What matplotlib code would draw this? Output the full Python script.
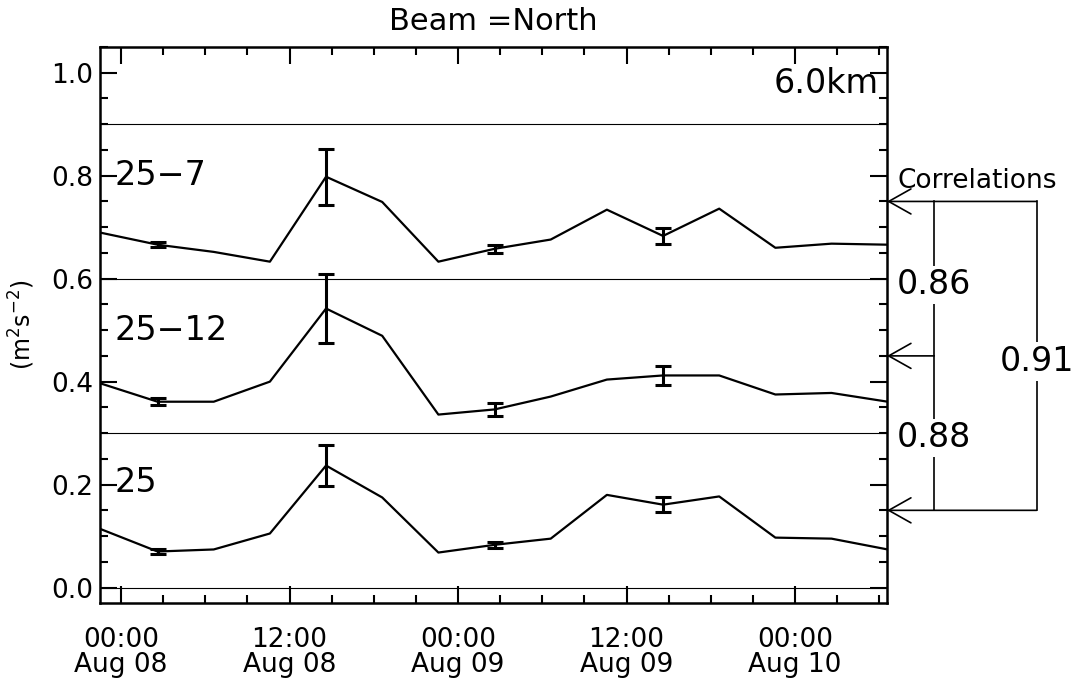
import matplotlib
matplotlib.use("Agg")
import matplotlib.pyplot as plt
import matplotlib.transforms as mtransforms
from matplotlib.ticker import MultipleLocator, FixedLocator

# hours since 00:00 Aug 08
hours = [-1.4, 2.6, 6.6, 10.6, 14.6, 18.6, 22.6, 26.6, 30.6, 34.6, 38.6, 42.6, 46.6, 50.6, 54.6]

# 25-7 series (offset by 0.6 in the plot scale)
s25_7 = [0.689, 0.666, 0.652, 0.633, 0.798, 0.749, 0.633, 0.658, 0.676, 0.734, 0.683, 0.736, 0.660, 0.668, 0.666]
# 25-12 series (offset by 0.3)
s25_12 = [0.396, 0.361, 0.361, 0.400, 0.542, 0.489, 0.336, 0.346, 0.371, 0.404, 0.412, 0.412, 0.375, 0.378, 0.361]
# 25 series
s25 = [0.113, 0.070, 0.074, 0.105, 0.237, 0.175, 0.068, 0.083, 0.095, 0.180, 0.161, 0.177, 0.097, 0.095, 0.074]

err_idx = [1, 4, 7, 10]
err_25_7 = [0.005, 0.054, 0.008, 0.015]
err_25_12 = [0.007, 0.067, 0.012, 0.018]
err_25 = [0.004, 0.040, 0.006, 0.015]

series = [("25\u22127", s25_7, err_25_7, 0.80),
          ("25\u221212", s25_12, err_25_12, 0.50),
          ("25", s25, err_25, 0.204)]

xtick_pos = [0, 12, 24, 36, 48]
xtick_labels = ["00:00\nAug 08", "12:00\nAug 08", "00:00\nAug 09", "12:00\nAug 09", "00:00\nAug 10"]

sep_lines = [0.9, 0.6, 0.3, 0.0]

# correlations: arrow levels and values
corr_levels = [0.75, 0.45, 0.15]
corr_labels = ["0.86", "0.88", "0.91"]

plt.rcParams['font.family'] = ['DejaVu Sans']

f = plt.figure(figsize=(10.88, 6.84), dpi=100)
ax = f.add_axes([100/1088, 81/684, 787/1088, 556/684])

#Data
for name, vals, errs, ylab in series:
    ax.plot(hours, vals, '-', color='black', lw=1.6)
    ax.errorbar([hours[i] for i in err_idx], [vals[i] for i in err_idx], yerr=errs,
                fmt='none', ecolor='black', elinewidth=2.2, capsize=6, capthick=2.2)
    ax.text(-0.45, ylab, name, fontsize=24, ha='left', va='center')

#separator lines
for v in sep_lines:
    ax.axhline(v, color='black', lw=0.8)

#Axis limits
ax.set_xlim(-1.5, 54.55)
ax.set_ylim(-0.03, 1.05)

#ticks
ax.set_yticks([0.0, 0.2, 0.4, 0.6, 0.8, 1.0])
ax.set_yticklabels(["0.0", "0.2", "0.4", "0.6", "0.8", "1.0"])
ax.yaxis.set_minor_locator(MultipleLocator(0.05))
ax.xaxis.set_major_locator(FixedLocator(xtick_pos))
ax.set_xticklabels(xtick_labels)
ax.xaxis.set_minor_locator(MultipleLocator(3))
ax.tick_params(which='both', direction='in', top=True, right=True, labelsize=19, width=1.5)
ax.tick_params(which='major', length=12)
ax.tick_params(which='minor', length=6)
ax.tick_params(axis='y', pad=5)
ax.tick_params(axis='x', pad=17)
for t in ax.get_xticklabels():
    t.set_linespacing(0.95)
for s in ax.spines.values():
    s.set_linewidth(1.8)

#Title and labels
ax.set_title('Beam =North', fontsize=22, pad=12)
ax.set_ylabel('(m$^{2}$s$^{-2}$)', fontsize=17, labelpad=10)
tr = mtransforms.blended_transform_factory(ax.transAxes, ax.transData)
ax.text(0.989, 0.979, '6.0km', fontsize=24, ha='right', va='center', transform=tr)

#Correlations annotation on the right
ax.text(1.013, 0.79, 'Correlations', fontsize=19, ha='left', va='center', transform=tr)
x_in, x_out = 1.06, 1.19
ends = [x_out, x_in, x_out]
for lev, xe in zip(corr_levels, ends):
    ax.annotate('', xy=(1.0, lev), xycoords=tr, xytext=(xe, lev), textcoords=tr,
                arrowprops=dict(arrowstyle='->, head_length=0.8, head_width=0.45',
                                lw=1.2, color='black', mutation_scale=20,
                                shrinkA=0, shrinkB=0), annotation_clip=False)
ax.plot([x_in, x_in], [corr_levels[0], corr_levels[2]], color='black', lw=1.2,
        transform=tr, clip_on=False)
ax.plot([x_out, x_out], [corr_levels[0], corr_levels[2]], color='black', lw=1.2,
        transform=tr, clip_on=False)
bb = dict(fc='white', ec='none', pad=2)
ax.text(x_in, 0.588, corr_labels[0], fontsize=24, ha='center', va='center', transform=tr, bbox=bb)
ax.text(x_in, 0.291, corr_labels[1], fontsize=24, ha='center', va='center', transform=tr, bbox=bb)
ax.text(x_out, 0.439, corr_labels[2], fontsize=24, ha='center', va='center', transform=tr, bbox=bb)

f.savefig('out.png', dpi=100)
